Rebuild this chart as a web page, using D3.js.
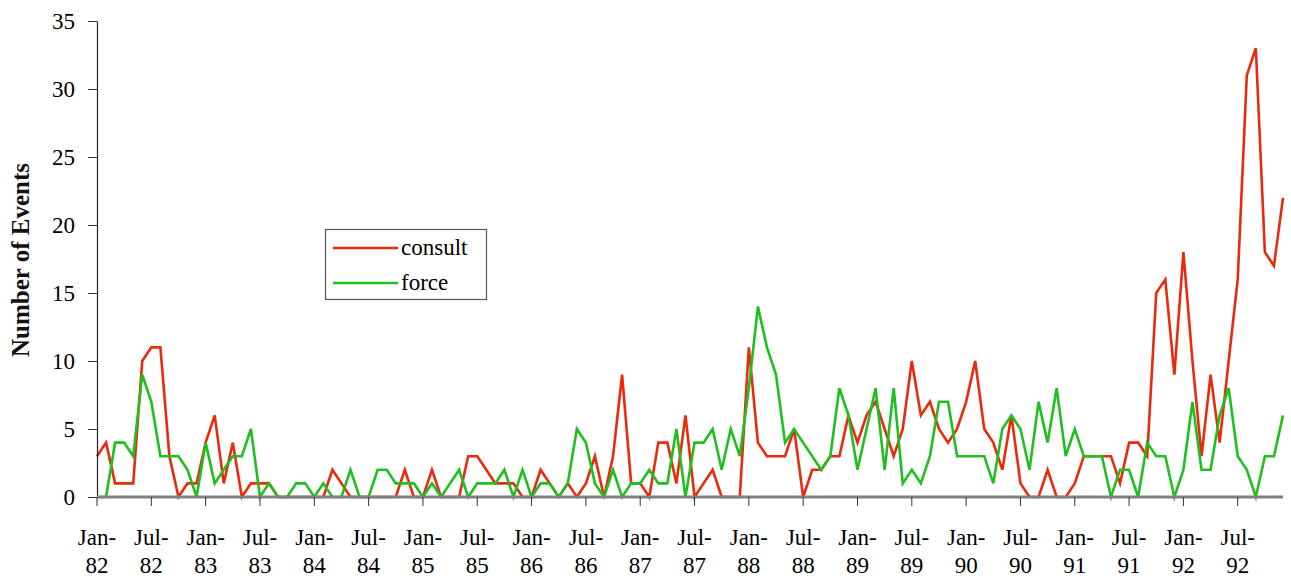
<!DOCTYPE html>
<html>
<head>
<meta charset="utf-8">
<script src="https://cdn.jsdelivr.net/npm/d3@7"></script>
<style>
  body { margin: 0; background: #fff; }
  svg { display: block; font-family: 'Liberation Serif', 'Times New Roman', serif; }
</style>
</head>
<body>
<div id="chart"></div>
<script>
// monthly counts, Jan-82 .. Dec-92
const consult = [
  3, 4, 1, 1, 1, 10, 11, 11, 3, 0, 1, 1,
  4, 6, 1, 4, 0, 1, 1, 1, 0, 0, 0, 0,
  0, 0, 2, 1, 0, 0, 0, 0, 0, 0, 2, 0,
  0, 2, 0, 0, 0, 3, 3, 2, 1, 1, 1, 0,
  0, 2, 1, 0, 1, 0, 1, 3, 0, 3, 9, 1,
  1, 0, 4, 4, 1, 6, 0, 1, 2, 0, 0, 0,
  11, 4, 3, 3, 3, 5, 0, 2, 2, 3, 3, 6,
  4, 6, 7, 5, 3, 5, 10, 6, 7, 5, 4, 5,
  7, 10, 5, 4, 2, 6, 1, 0, 0, 2, 0, 0,
  1, 3, 3, 3, 3, 1, 4, 4, 3, 15, 16, 9,
  18, 10, 3, 9, 4, 10, 16, 31, 33, 18, 17, 22
]
const force = [
  0, 0, 4, 4, 3, 9, 7, 3, 3, 3, 2, 0,
  4, 1, 2, 3, 3, 5, 0, 1, 0, 0, 1, 1,
  0, 1, 0, 0, 2, 0, 0, 2, 2, 1, 1, 1,
  0, 1, 0, 1, 2, 0, 1, 1, 1, 2, 0, 2,
  0, 1, 1, 0, 1, 5, 4, 1, 0, 2, 0, 1,
  1, 2, 1, 1, 5, 0, 4, 4, 5, 2, 5, 3,
  8, 14, 11, 9, 4, 5, 4, 3, 2, 3, 8, 6,
  2, 5, 8, 2, 8, 1, 2, 1, 3, 7, 7, 3,
  3, 3, 3, 1, 5, 6, 5, 2, 7, 4, 8, 3,
  5, 3, 3, 3, 0, 2, 2, 0, 4, 3, 3, 0,
  2, 7, 2, 2, 6, 8, 3, 2, 0, 3, 3, 6
]
const tickLabels = [
  'Jan-82', 'Jul-82', 'Jan-83', 'Jul-83', 'Jan-84', 'Jul-84', 'Jan-85', 'Jul-85',
  'Jan-86', 'Jul-86', 'Jan-87', 'Jul-87', 'Jan-88', 'Jul-88', 'Jan-89', 'Jul-89',
  'Jan-90', 'Jul-90', 'Jan-91', 'Jul-91', 'Jan-92', 'Jul-92'
]
const yTicks = [0, 5, 10, 15, 20, 25, 30, 35]
const seriesNames = ['consult', 'force']
const seriesColors = ['#ea2a0c', '#1fbf1f']

const width = 1291
const height = 583

const fmt = d3.timeFormat('%b-%y')
const months = d3.timeMonth.range(new Date(1982, 0, 1), new Date(1993, 0, 1)).map(fmt)

const svg = d3.select('#chart').append('svg')
  .attr('width', width)
  .attr('height', height)

const x = d3.scalePoint()
  .domain(months)
  .range([97, 1283])

const y = d3.scaleLinear()
  .domain([0, 35])
  .range([497, 21])

const line = d3.line()
  .x((d, i) => x(months[i]))
  .y(d => y(d))

// series first, axes on top (zeros sit under the x axis line)
const series = [consult, force]
svg.append('g')
  .selectAll('path')
  .data(series)
  .enter()
  .append('path')
  .attr('d', line)
  .attr('fill', 'none')
  .attr('stroke', (d, i) => seriesColors[i])
  .attr('stroke-width', 2.6)
  .attr('stroke-linejoin', 'miter')

const yAxis = svg.append('g')
  .attr('transform', 'translate(97,0)')
  .call(d3.axisLeft(y).tickValues(yTicks).tickSize(9).tickSizeOuter(0).tickPadding(13))
yAxis.select('.domain').attr('stroke', '#222').attr('stroke-width', 1.2)
yAxis.selectAll('.tick line').attr('stroke', '#333')
yAxis.selectAll('.tick text')
  .attr('font-size', 23)
  .attr('font-family', "'Liberation Serif', serif")
  .attr('fill', '#000')

const xAxis = svg.append('g')
  .attr('transform', 'translate(0,497)')
  .call(d3.axisBottom(x).tickValues(tickLabels).tickSize(9).tickSizeOuter(0).offset(0).tickFormat(''))
xAxis.select('.domain').attr('stroke', '#808080').attr('stroke-width', 3)
xAxis.selectAll('.tick line').attr('stroke', '#333')
const lab = xAxis.selectAll('.tick').append('text')
  .attr('fill', '#000')
  .attr('font-size', 23)
  .attr('font-family', "'Liberation Serif', serif")
  .attr('text-anchor', 'middle')
lab.append('tspan').attr('x', 0).attr('y', 48).text(d => d.split('-')[0] + '-')
lab.append('tspan').attr('x', 0).attr('y', 76).text(d => d.split('-')[1])

svg.append('text')
  .attr('transform', 'translate(29,260) rotate(-90)')
  .attr('text-anchor', 'middle')
  .attr('font-size', 25)
  .attr('font-weight', 'bold')
  .attr('fill', '#111')
  .text('Number of Events')

// legend
const legend = svg.append('g')
legend.append('rect')
  .attr('x', 325.5).attr('y', 229.5)
  .attr('width', 161).attr('height', 70)
  .attr('fill', '#fff')
  .attr('stroke', '#555')
  .attr('stroke-width', 1.2)
const item = legend.selectAll('g.item')
  .data(seriesNames)
  .enter()
  .append('g')
  .attr('class', 'item')
  .attr('transform', (d, i) => `translate(0,${248 + i * 35})`)
item.append('line')
  .attr('x1', 333).attr('x2', 398)
  .attr('stroke', (d, i) => seriesColors[i])
  .attr('stroke-width', 2.6)
item.append('text')
  .attr('x', 401).attr('y', 7)
  .attr('font-size', 23)
  .attr('fill', '#000')
  .text(d => d)
</script>
</body>
</html>
